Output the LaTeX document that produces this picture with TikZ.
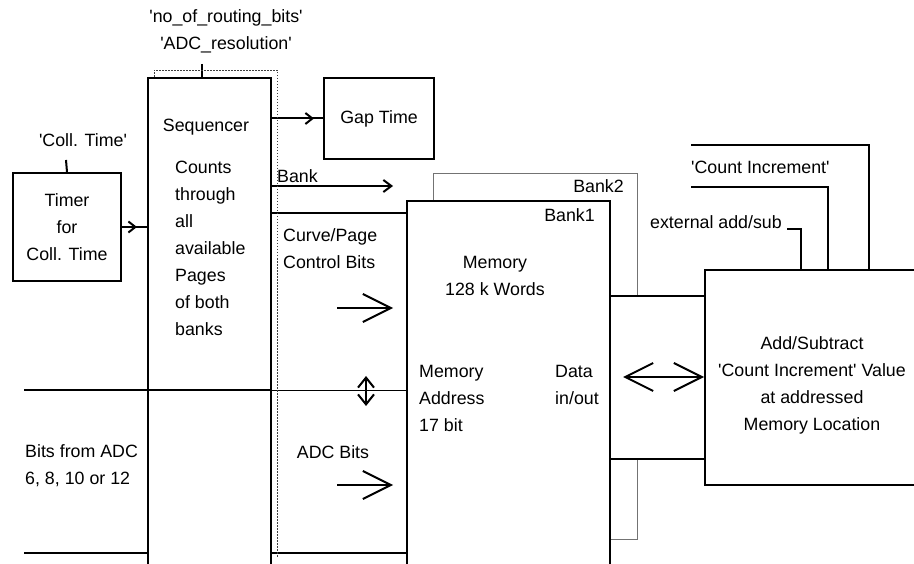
\documentclass[tikz,border=0pt]{standalone}
\usepackage{fontspec}
\setmainfont{Liberation Sans}
\usetikzlibrary{positioning, arrows.meta, decorations.markings}

\begin{document}
\begin{tikzpicture}[x=1pt, y=-1pt]
	% Define styles
	\tikzstyle{every node}=[font=\fontsize{17.8}{27}\selectfont]
	\tikzstyle{block} = [rectangle, draw, line width=2pt, fill=white, anchor=north west, inner sep=0pt, align=center]
	\tikzstyle{bankblock} = [block, draw=black!55, line width=0.9pt]
	\tikzstyle{txt} = [inner sep=0pt, align=left]
	\tikzstyle{wire} = [line width=2pt]
	\tikzstyle{thinwire} = [line width=0.9pt]
	\tikzstyle{arrow} = [wire, -{Straight Barb[length=8pt,width=12pt]}]
	\tikzstyle{bigarrow} = [wire, -{Straight Barb[length=28pt,width=28pt]}]
	\tikzstyle{bigboth} = [wire, {Straight Barb[length=28pt,width=28pt]}-{Straight Barb[length=28pt,width=28pt]}]
	\tikzstyle{smallboth} = [wire, {Straight Barb[length=10pt,width=16pt]}-{Straight Barb[length=10pt,width=16pt]}]
	\tikzstyle{frame} = [line width=0.8pt, black!75, dash pattern=on 1.5pt off 1.5pt]
	\tikzset{midarrow/.style={wire, postaction={decorate},
		decoration={markings, mark=at position #1 with {\arrow{Straight Barb[length=7pt,width=11pt]}}}}}
	
	% Page size
	\useasboundingbox (0,0) rectangle (914,564);
	\clip (0,0) rectangle (914,564);
	
	% Place nodes
	\node[block, minimum width=108, minimum height=108] (timer) at (12,172) {Timer\\for\\Coll. Time};
	\node[block, minimum width=123, minimum height=520] (seq) at (147,77) {};
	\node[block, minimum width=110, minimum height=81] (gap) at (323,77) {Gap Time};
	\node[bankblock, minimum width=204, minimum height=366] (bank2) at (433,173) {};
	\node[block, minimum width=203, minimum height=400] (bank1) at (406,200) {};
	\node[block, minimum width=95, minimum height=163] (bus) at (609,295) {};
	\node[block, minimum width=216, minimum height=215] (addsub) at (704,269) {};
	
	% Texts
	\node[txt, align=center] (params) at (226,31) {\textquotesingle no\_of\_routing\_bits\textquotesingle\\\textquotesingle ADC\_resolution\textquotesingle};
	\node[txt] (colltime) at (83,140) {\textquotesingle Coll. Time\textquotesingle};
	\node[txt, below=42pt of seq.north, xshift=-3.5pt] (seqname) {Sequencer};
	\node[txt, anchor=west] (seqtext) at (175,248) {Counts\\through\\all\\available\\Pages\\of both\\banks};
	\node[txt, anchor=west] (banklabel) at (277,176) {Bank};
	\node[txt, anchor=west] (ctrllabel) at (283,249) {Curve/Page\\Control Bits};
	\node[txt, align=center] (memlabel) at (495,276) {Memory\\128 k Words};
	\node[txt, anchor=east] (bank2label) at (624,186) {Bank2};
	\node[txt, anchor=east] (bank1label) at (595,215) {Bank1};
	\node[txt, anchor=west] (addrlabel) at (419,398) {Memory\\Address\\17 bit};
	\node[txt, anchor=west] (datalabel) at (555,385) {Data\\in/out};
	\node[txt, align=center] (addsublabel) at (812,385) {Add/Subtract\\\textquotesingle Count Increment\textquotesingle{} Value\\at addressed\\Memory Location};
	\node[txt, anchor=west] (cntlabel) at (691,167) {\textquotesingle Count Increment\textquotesingle};
	\node[txt, anchor=east] (extlabel) at (782,222) {external add/sub};
	\node[txt, anchor=west] (adclabel) at (25,466) {Bits from ADC\\6, 8, 10 or 12};
	\node[txt] (adcbits) at (333,452) {ADC Bits};
	
	% Wire ends
	\coordinate (colltick) at (66,160);
	\coordinate (restick) at (202,64);
	\coordinate (banktip) at (393,186);
	\coordinate (ctrlline) at (270,213);
	\coordinate (addrin) at (24,390);
	\coordinate (adcin) at (24,553);
	\coordinate (ctrltail) at (337,308);
	\coordinate (ctrltip) at (393,308);
	\coordinate (adctail) at (337,485);
	\coordinate (adctip) at (393,485);
	\coordinate (addrup) at (366,376);
	\coordinate (addrdown) at (366,406);
	\coordinate (datatip) at (623,377);
	\coordinate (incouter) at (691,145);
	\coordinate (incouterx) at (869,145);
	\coordinate (incin) at (691,187);
	\coordinate (incinx) at (828,187);
	\coordinate (extin) at (787,229);
	\coordinate (extx) at (801,229);
	
	% Draw arrows
	\draw[wire] (timer.north) -- (colltick);
	\draw[wire] (restick) -- (restick |- seq.north);
	\draw[midarrow=15pt] (timer.east) -- (timer.east -| seq.west);
	\draw[midarrow=42pt] (seq.east |- gap.west) -- (gap.west);
	\draw[arrow] (seq.east |- banktip) -- (banktip);
	\draw[wire] (seq.east |- ctrlline) -- (bank1.west |- ctrlline);
	\draw[wire] (addrin) -- (addrin -| seq.east);
	\draw[thinwire] (addrin -| seq.east) -- (addrin -| bank1.west);
	\draw[wire] (adcin) -- (adcin -| seq.west);
	\draw[wire] (adcin -| seq.east) -- (adcin -| bank1.west);
	\draw[bigarrow] (ctrltail) -- (ctrltip);
	\draw[bigarrow] (adctail) -- (adctip);
	\draw[smallboth] (addrup) -- (addrdown);
	\draw[bigboth] (datatip) -- (datatip -| addsub.west);
	\draw[wire] (incouter) -- (incouterx) -- (incouterx |- addsub.north);
	\draw[wire] (incin) -- (incinx) -- (incinx |- addsub.north);
	\draw[wire] (extin) -- (extx) -- (extx |- addsub.north);
	
	% Dotted frame round the sequencer
	\draw[frame] (154,77) -- (154,70) -- (277,70) -- (277,557);
\end{tikzpicture}
\end{document}
